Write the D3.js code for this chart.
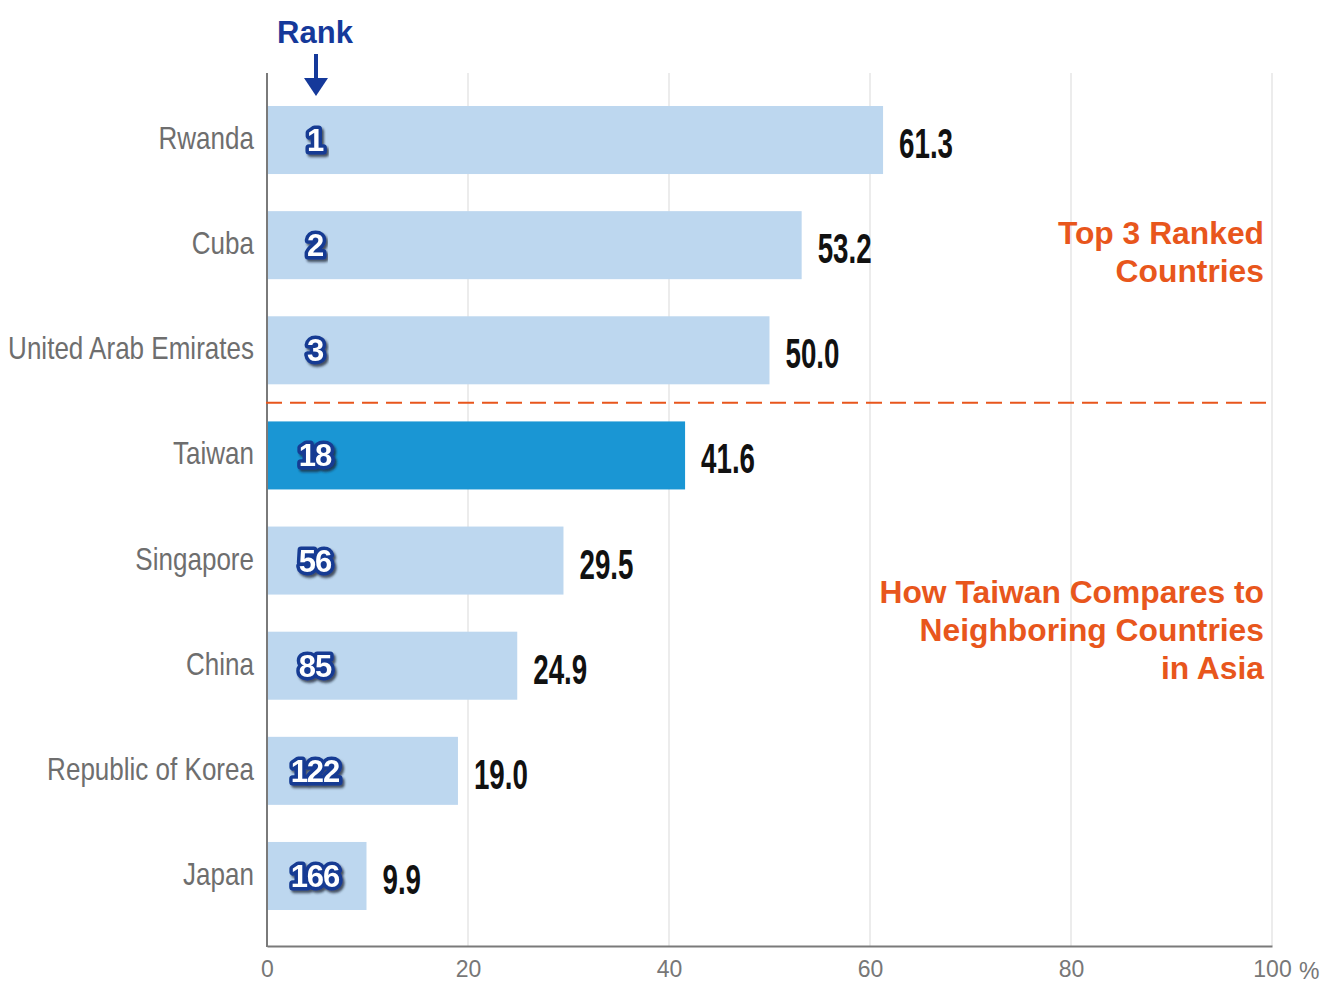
<!DOCTYPE html>
<html>
<head>
<meta charset="utf-8">
<script src="https://cdn.jsdelivr.net/npm/d3@7"></script>
<style>
  body { margin: 0; background: #fff; }
  svg { display: block; }
</style>
</head>
<body>
<script>
var countries = ['Rwanda', 'Cuba', 'United Arab Emirates', 'Taiwan', 'Singapore', 'China', 'Republic of Korea', 'Japan'];
var values = [61.3, 53.2, 50.0, 41.6, 29.5, 24.9, 19.0, 9.9];
var ranks = [1, 2, 3, 18, 56, 85, 122, 166];
var xTicks = [0, 20, 40, 60, 80, 100];
var topNote = ['Top 3 Ranked', 'Countries'];
var asiaNote = ['How Taiwan Compares to', 'Neighboring Countries', 'in Asia'];

var data = countries.map(function(c, i) {
  return {country: c, value: values[i], rank: ranks[i]};
});

var W = 1324, H = 981;
var xLeft = 267, xRight = 1272, yTop = 73, yBottom = 946;
var sans = '"Liberation Sans", Arial, sans-serif';

var svg = d3.select('body').append('svg')
    .attr('width', W)
    .attr('height', H);

var defs = svg.append('defs');
defs.append('filter')
    .attr('id', 'shadow')
    .attr('x', '-20%').attr('y', '-20%')
    .attr('width', '150%').attr('height', '150%')
  .append('feDropShadow')
    .attr('dx', 2).attr('dy', 2.5)
    .attr('stdDeviation', 1.2)
    .attr('flood-color', '#1b2230')
    .attr('flood-opacity', 0.75);

var x = d3.scaleLinear()
    .domain([0, 100])
    .range([xLeft, xRight]);

var y = d3.scaleBand()
    .domain(countries)
    .range([yTop, 943])
    .paddingInner(0.353)
    .paddingOuter(0.314);

// gridlines
svg.append('g')
  .selectAll('line')
  .data(xTicks.slice(1))
  .enter().append('line')
    .attr('x1', function(d) { return x(d); })
    .attr('x2', function(d) { return x(d); })
    .attr('y1', yTop)
    .attr('y2', yBottom)
    .attr('stroke', '#e6e6e6')
    .attr('stroke-width', 1.5);

// bars
svg.append('g')
  .selectAll('rect')
  .data(data)
  .enter().append('rect')
    .attr('x', x(0))
    .attr('y', function(d) { return y(d.country); })
    .attr('width', function(d) { return x(d.value) - x(0); })
    .attr('height', y.bandwidth())
    .attr('fill', function(d) { return d.country === 'Taiwan' ? '#1a96d4' : '#bdd7ef'; });

// axes
var xAxis = d3.axisBottom(x)
    .tickValues(xTicks)
    .tickSize(0)
    .tickPadding(15);

var gx = svg.append('g')
    .attr('transform', 'translate(0,' + yBottom + ')')
    .call(xAxis);
gx.select('.domain').attr('stroke', '#7a7a7a').attr('stroke-width', 2);
gx.selectAll('text')
    .attr('fill', '#777')
    .style('font-family', sans)
    .style('font-size', '23px');

svg.append('text')
    .attr('x', x(100) + 27)
    .attr('y', yBottom + 33)
    .attr('fill', '#777')
    .style('font-family', sans)
    .style('font-size', '23px')
    .text('%');

svg.append('line')
    .attr('x1', x(0)).attr('x2', x(0))
    .attr('y1', yTop).attr('y2', yBottom + 1)
    .attr('stroke', '#7a7a7a')
    .attr('stroke-width', 2);

// dashed divider between top 3 and the rest
var divY = (y('United Arab Emirates') + y.bandwidth() + y('Taiwan')) / 2;
svg.append('line')
    .attr('x1', x(0) - 1).attr('x2', x(100))
    .attr('y1', divY).attr('y2', divY)
    .attr('stroke', '#e8561c')
    .attr('stroke-width', 2)
    .attr('stroke-dasharray', '16,8');

// country labels (Arial squeezed to a narrow face)
svg.append('g')
  .selectAll('text')
  .data(data)
  .enter().append('text')
    .attr('transform', function(d) {
      return 'translate(' + (xLeft - 13) + ',' + (y(d.country) + y.bandwidth() / 2 + 9) + ') scale(0.84,1)';
    })
    .attr('text-anchor', 'end')
    .attr('fill', '#6e6e6e')
    .style('font-family', sans)
    .style('font-size', '31px')
    .text(function(d) { return d.country; });

// value labels
svg.append('g')
  .selectAll('text')
  .data(data)
  .enter().append('text')
    .attr('transform', function(d) {
      return 'translate(' + (x(d.value) + 16) + ',' + (y(d.country) + y.bandwidth() / 2 + 18) + ') scale(0.66,1)';
    })
    .attr('fill', '#111')
    .style('font-family', sans)
    .style('font-weight', 'bold')
    .style('font-size', '42px')
    .text(function(d) { return d3.format('.1f')(d.value); });

// rank badges
var rankX = 315;
svg.append('g')
  .selectAll('text')
  .data(data)
  .enter().append('text')
    .attr('x', rankX)
    .attr('y', function(d) { return y(d.country) + y.bandwidth() / 2 + 11; })
    .attr('text-anchor', 'middle')
    .attr('fill', '#fff')
    .attr('stroke', '#143a93')
    .attr('stroke-width', 7)
    .attr('stroke-linejoin', 'round')
    .attr('paint-order', 'stroke')
    .attr('filter', 'url(#shadow)')
    .style('font-family', sans)
    .style('font-weight', 'bold')
    .style('font-size', '31px')
    .style('letter-spacing', '-1px')
    .text(function(d) { return d.rank; });

// Rank header and arrow
svg.append('text')
    .attr('x', rankX)
    .attr('y', 43)
    .attr('text-anchor', 'middle')
    .attr('fill', '#15399a')
    .style('font-family', sans)
    .style('font-weight', 'bold')
    .style('font-size', '31px')
    .text('Rank');

svg.append('line')
    .attr('x1', 316).attr('x2', 316)
    .attr('y1', 54).attr('y2', 80)
    .attr('stroke', '#15399a')
    .attr('stroke-width', 4);
svg.append('path')
    .attr('d', 'M304,78 L328,78 L316,96 Z')
    .attr('fill', '#15399a');

// notes
function note(lines, y0) {
  var t = svg.append('text')
      .attr('text-anchor', 'end')
      .attr('fill', '#e8561c')
      .style('font-family', sans)
      .style('font-weight', 'bold')
      .style('font-size', '31.8px');
  lines.forEach(function(line, i) {
    t.append('tspan')
      .attr('x', 1264)
      .attr('y', y0 + i * 38)
      .text(line);
  });
}
note(topNote, 244);
note(asiaNote, 603);
</script>
</body>
</html>
